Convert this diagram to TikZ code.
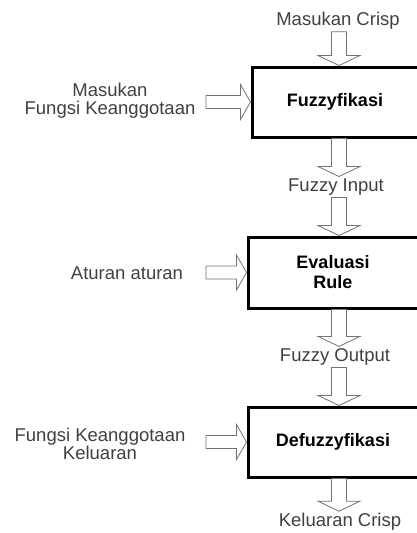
\documentclass[tikz,border=0pt]{standalone}
\usepackage{fontspec}
\setmainfont{Liberation Sans}
\usepackage{tikz}
\usetikzlibrary{positioning}
\usetikzlibrary{calc}

\begin{document}
\begin{tikzpicture}[x=1pt, y=-1pt,
every node/.style={font=\fontsize{18.5}{18}\selectfont},
stage/.style={draw, line width=3pt, minimum width=170pt, minimum height=70pt, align=center, font=\fontsize{18}{20}\selectfont\bfseries},
lbl/.style={text=black!75, align=center, inner sep=2pt},
hollow/.style={draw=black!55, line width=0.8pt, fill=white, line join=miter}]
\useasboundingbox (0,0) rectangle (416,533);
% block arrows: shaft half width, head half width, head length
\def\sw{7.5}
\def\hw{21}
\def\hl{10}
\def\darrow#1#2{\draw[hollow] let \p1=(col |- #1), \p2=(col |- #2) in
  (\x1-\sw,\y1) -- (\x1+\sw,\y1) -- (\x1+\sw,\y2+\hl) -- (\x1+\hw,\y2+\hl) -- (\x2,\y2)
  -- (\x1-\hw,\y2+\hl) -- (\x1-\sw,\y2+\hl) -- cycle;}
\def\rarrow#1#2{\draw[hollow] let \p1=(#1), \p2=(#2) in
  (\x1,\y2+6.5) -- (\x1,\y2-6.5) -- (\x2-\hl,\y2-6.5) -- (\x2-\hl,\y2-17.5) -- (\x2,\y2)
  -- (\x2-\hl,\y2+17.5) -- (\x2-\hl,\y2+6.5) -- cycle;}
\coordinate (col) at (339,0);
\coordinate (lcol) at (206,0);

\node[stage, minimum width=166pt] (Fuz) at (335,102) {Fuzzyfikasi};
\node[stage, minimum height=71pt] (Eval) at (333,272.5) {Evaluasi\\Rule};
\node[stage] (Defuz) at (333,442) {Defuzzyfikasi};

\node[lbl] (CrispIn) at (338,21) {Masukan Crisp};
\node[lbl] (FuzIn) at (336,187) {Fuzzy Input};
\node[lbl] (FuzOut) at (335,357) {Fuzzy Output};
\node[lbl] (CrispOut) at (340,522) {Keluaran Crisp};

\node[lbl] (FungsiIn) at (110,101) {Masukan\\Fungsi Keanggotaan};
\node[lbl] (Aturan) at (127,273) {Aturan aturan};
\node[lbl] (FungsiOut) at (100,444) {Fungsi Keanggotaan\\Keluaran};

\darrow{CrispIn.south}{Fuz.north}
\darrow{Fuz.south}{FuzIn.north}
\darrow{FuzIn.south}{Eval.north}
\darrow{Eval.south}{FuzOut.north}
\darrow{FuzOut.south}{Defuz.north}
\darrow{Defuz.south}{CrispOut.north}

\rarrow{lcol}{Fuz.west}
\rarrow{lcol}{Eval.west}
\rarrow{lcol}{Defuz.west}
\end{tikzpicture}
\end{document}
